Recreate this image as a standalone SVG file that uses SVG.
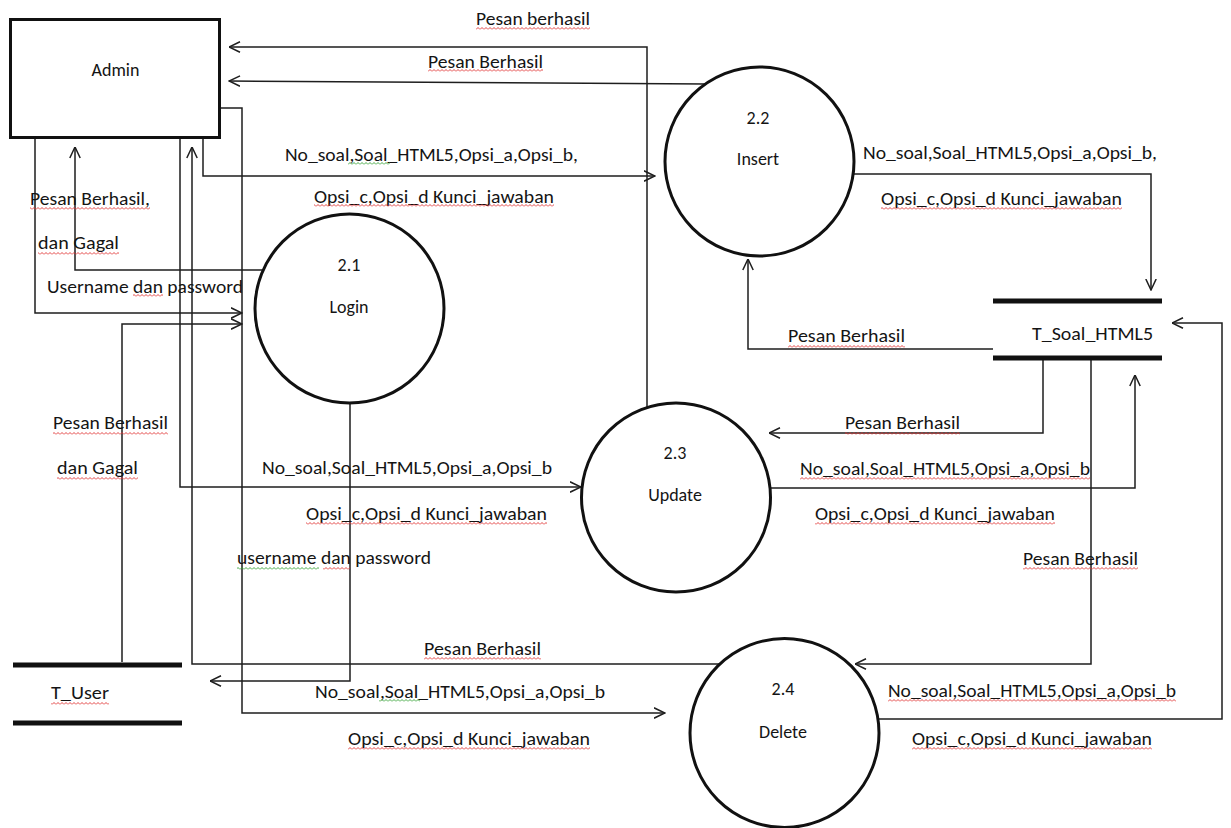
<svg xmlns="http://www.w3.org/2000/svg" width="1231" height="828" viewBox="0 0 1231 828">
<style>
text{font-family:Carlito,Lato,"Open Sans","Liberation Sans",sans-serif;font-size:18px;fill:#141414}
.c{text-anchor:middle}
.ln{fill:none;stroke:#1e1e1e;stroke-width:1.5}
.ar{marker-end:url(#ah)}
.proc{fill:#fff;stroke:#111;stroke-width:3}
.bar{stroke:#111;stroke-width:5}
.sr{fill:url(#sqr)}
.sg{fill:url(#sqg)}
</style>
<defs>
<marker id="ah" markerUnits="userSpaceOnUse" viewBox="0 0 12 12" refX="11.5" refY="6" markerWidth="12" markerHeight="12" orient="auto">
<path d="M0.5,0.8 L11.5,6 L0.5,11.2" fill="none" stroke="#1e1e1e" stroke-width="1.5"/>
</marker>
<pattern id="sqr" width="4" height="3" patternUnits="userSpaceOnUse"><path d="M0,2.5 L2,0.5 L4,2.5" fill="none" stroke="#e03030" stroke-width="0.9"/></pattern>
<pattern id="sqg" width="4" height="3" patternUnits="userSpaceOnUse"><path d="M0,2.5 L2,0.5 L4,2.5" fill="none" stroke="#30a030" stroke-width="0.9"/></pattern>
</defs>
<rect width="1231" height="828" fill="#fff"/>

<g id="connectors">
<path class="ln ar" d="M647,407 V47 H229"/>
<path class="ln ar" d="M706,84 L229,81"/>
<path class="ln ar" d="M220,108 H242 V713 H665"/>
<path class="ln ar" d="M35,138 V313 H242"/>
<path class="ln ar" d="M263,270 H75 V147"/>
<path class="ln ar" d="M180,138 V487 H581"/>
<path class="ln ar" d="M720,664 H192 V147"/>
<path class="ln ar" d="M203,138 V176 H655"/>
<path class="ln ar" d="M122,662 V324 H242"/>
<path class="ln ar" d="M350,403 V681 H210"/>
<path class="ln ar" d="M853,174 H1151 V290"/>
<path class="ln ar" d="M993,349 H748 V259"/>
<path class="ln ar" d="M1043,358 V433 H769"/>
<path class="ln ar" d="M770,488 H1135 V375"/>
<path class="ln ar" d="M1091,358 V664 H855"/>
<path class="ln ar" d="M878,719 H1222 V323 H1172"/>
</g>

<g id="admin">
<rect x="10.5" y="19.5" width="209" height="118" fill="#fff" stroke="#111" stroke-width="3"/>
<text class="c" x="115.5" y="76">Admin</text>
</g>

<g id="p21">
<circle class="proc" cx="349.5" cy="308.5" r="94.5"/>
<text class="c" x="349" y="271">2.1</text>
<text class="c" x="349" y="313">Login</text>
</g>

<g id="p22">
<circle class="proc" cx="759.5" cy="161.5" r="94.5"/>
<text class="c" x="758" y="124">2.2</text>
<text class="c" x="758" y="165">Insert</text>
</g>

<g id="p23">
<circle class="proc" cx="676" cy="497.5" r="94.5"/>
<text class="c" x="675" y="459">2.3</text>
<text class="c" x="675" y="501">Update</text>
</g>

<g id="p24">
<circle class="proc" cx="784.5" cy="733" r="94.5"/>
<text class="c" x="783" y="695">2.4</text>
<text class="c" x="783" y="738">Delete</text>
</g>

<g id="t_soal">
<line class="bar" x1="993" y1="301" x2="1162" y2="301"/>
<line class="bar" x1="993" y1="358" x2="1162" y2="358"/>
<text x="1032" y="340" textLength="121" lengthAdjust="spacingAndGlyphs">T_Soal_HTML5</text>
</g>

<g id="t_user">
<line class="bar" x1="13" y1="665" x2="182" y2="665"/>
<line class="bar" x1="13" y1="723" x2="182" y2="723"/>
<text x="51" y="699" textLength="58" lengthAdjust="spacingAndGlyphs">T_User</text>
<rect class="sr" x="51" y="702" width="58" height="3"/>
</g>

<g id="labels">
<text x="476" y="25" textLength="114" lengthAdjust="spacingAndGlyphs">Pesan berhasil</text>
<rect class="sr" x="476" y="27" width="114" height="3"/>
<text x="428" y="68" textLength="115" lengthAdjust="spacingAndGlyphs">Pesan Berhasil</text>
<rect class="sr" x="428" y="69" width="115" height="3"/>

<text x="285" y="161" textLength="293" lengthAdjust="spacingAndGlyphs">No_soal,Soal_HTML5,Opsi_a,Opsi_b,</text>
<rect class="sg" x="348" y="162" width="42" height="3"/>
<text x="314" y="203" textLength="240" lengthAdjust="spacingAndGlyphs">Opsi_c,Opsi_d Kunci_jawaban</text>
<rect class="sr" x="314" y="204" width="240" height="3"/>

<text x="30" y="205" textLength="120" lengthAdjust="spacingAndGlyphs">Pesan Berhasil,</text>
<rect class="sr" x="30" y="207" width="120" height="3"/>
<text x="38" y="249" textLength="81" lengthAdjust="spacingAndGlyphs">dan Gagal</text>
<rect class="sr" x="38" y="252" width="81" height="3"/>
<text x="47" y="293" textLength="196" lengthAdjust="spacingAndGlyphs">Username dan password</text>
<rect class="sr" x="133" y="294" width="30" height="3"/>

<text x="863" y="159" textLength="294" lengthAdjust="spacingAndGlyphs">No_soal,Soal_HTML5,Opsi_a,Opsi_b,</text>
<text x="881" y="205" textLength="241" lengthAdjust="spacingAndGlyphs">Opsi_c,Opsi_d Kunci_jawaban</text>
<rect class="sr" x="881" y="207" width="241" height="3"/>

<text x="788" y="342" textLength="117" lengthAdjust="spacingAndGlyphs">Pesan Berhasil</text>
<rect class="sr" x="788" y="345" width="117" height="3"/>

<text x="53" y="429" textLength="115" lengthAdjust="spacingAndGlyphs">Pesan Berhasil</text>
<rect class="sr" x="53" y="432" width="115" height="3"/>
<text x="57" y="474" textLength="81" lengthAdjust="spacingAndGlyphs">dan Gagal</text>
<rect class="sr" x="57" y="477" width="81" height="3"/>

<text x="262" y="474" textLength="290" lengthAdjust="spacingAndGlyphs">No_soal,Soal_HTML5,Opsi_a,Opsi_b</text>
<text x="306" y="520" textLength="241" lengthAdjust="spacingAndGlyphs">Opsi_c,Opsi_d Kunci_jawaban</text>
<rect class="sr" x="306" y="522" width="241" height="3"/>

<text x="237" y="564" textLength="194" lengthAdjust="spacingAndGlyphs">username dan password</text>
<rect class="sg" x="237" y="567" width="82" height="3"/>
<rect class="sr" x="323" y="567" width="27" height="3"/>

<text x="845" y="429" textLength="115" lengthAdjust="spacingAndGlyphs">Pesan Berhasil</text>
<rect class="sr" x="845" y="432" width="115" height="3"/>
<text x="800" y="475" textLength="290" lengthAdjust="spacingAndGlyphs">No_soal,Soal_HTML5,Opsi_a,Opsi_b</text>
<rect class="sr" x="800" y="477" width="290" height="3"/>
<text x="815" y="520" textLength="240" lengthAdjust="spacingAndGlyphs">Opsi_c,Opsi_d Kunci_jawaban</text>
<rect class="sr" x="815" y="522" width="240" height="3"/>
<text x="1023" y="565" textLength="115" lengthAdjust="spacingAndGlyphs">Pesan Berhasil</text>
<rect class="sr" x="1023" y="567" width="115" height="3"/>

<text x="424" y="655" textLength="117" lengthAdjust="spacingAndGlyphs">Pesan Berhasil</text>
<rect class="sr" x="424" y="657" width="117" height="3"/>
<text x="315" y="698" textLength="290" lengthAdjust="spacingAndGlyphs">No_soal,Soal_HTML5,Opsi_a,Opsi_b</text>
<rect class="sg" x="379" y="699" width="41" height="3"/>
<text x="348" y="745" textLength="242" lengthAdjust="spacingAndGlyphs">Opsi_c,Opsi_d Kunci_jawaban</text>
<rect class="sr" x="348" y="747" width="242" height="3"/>

<text x="888" y="697" textLength="288" lengthAdjust="spacingAndGlyphs">No_soal,Soal_HTML5,Opsi_a,Opsi_b</text>
<rect class="sr" x="888" y="699" width="288" height="3"/>
<text x="912" y="745" textLength="240" lengthAdjust="spacingAndGlyphs">Opsi_c,Opsi_d Kunci_jawaban</text>
<rect class="sr" x="912" y="747" width="240" height="3"/>
</g>
</svg>
